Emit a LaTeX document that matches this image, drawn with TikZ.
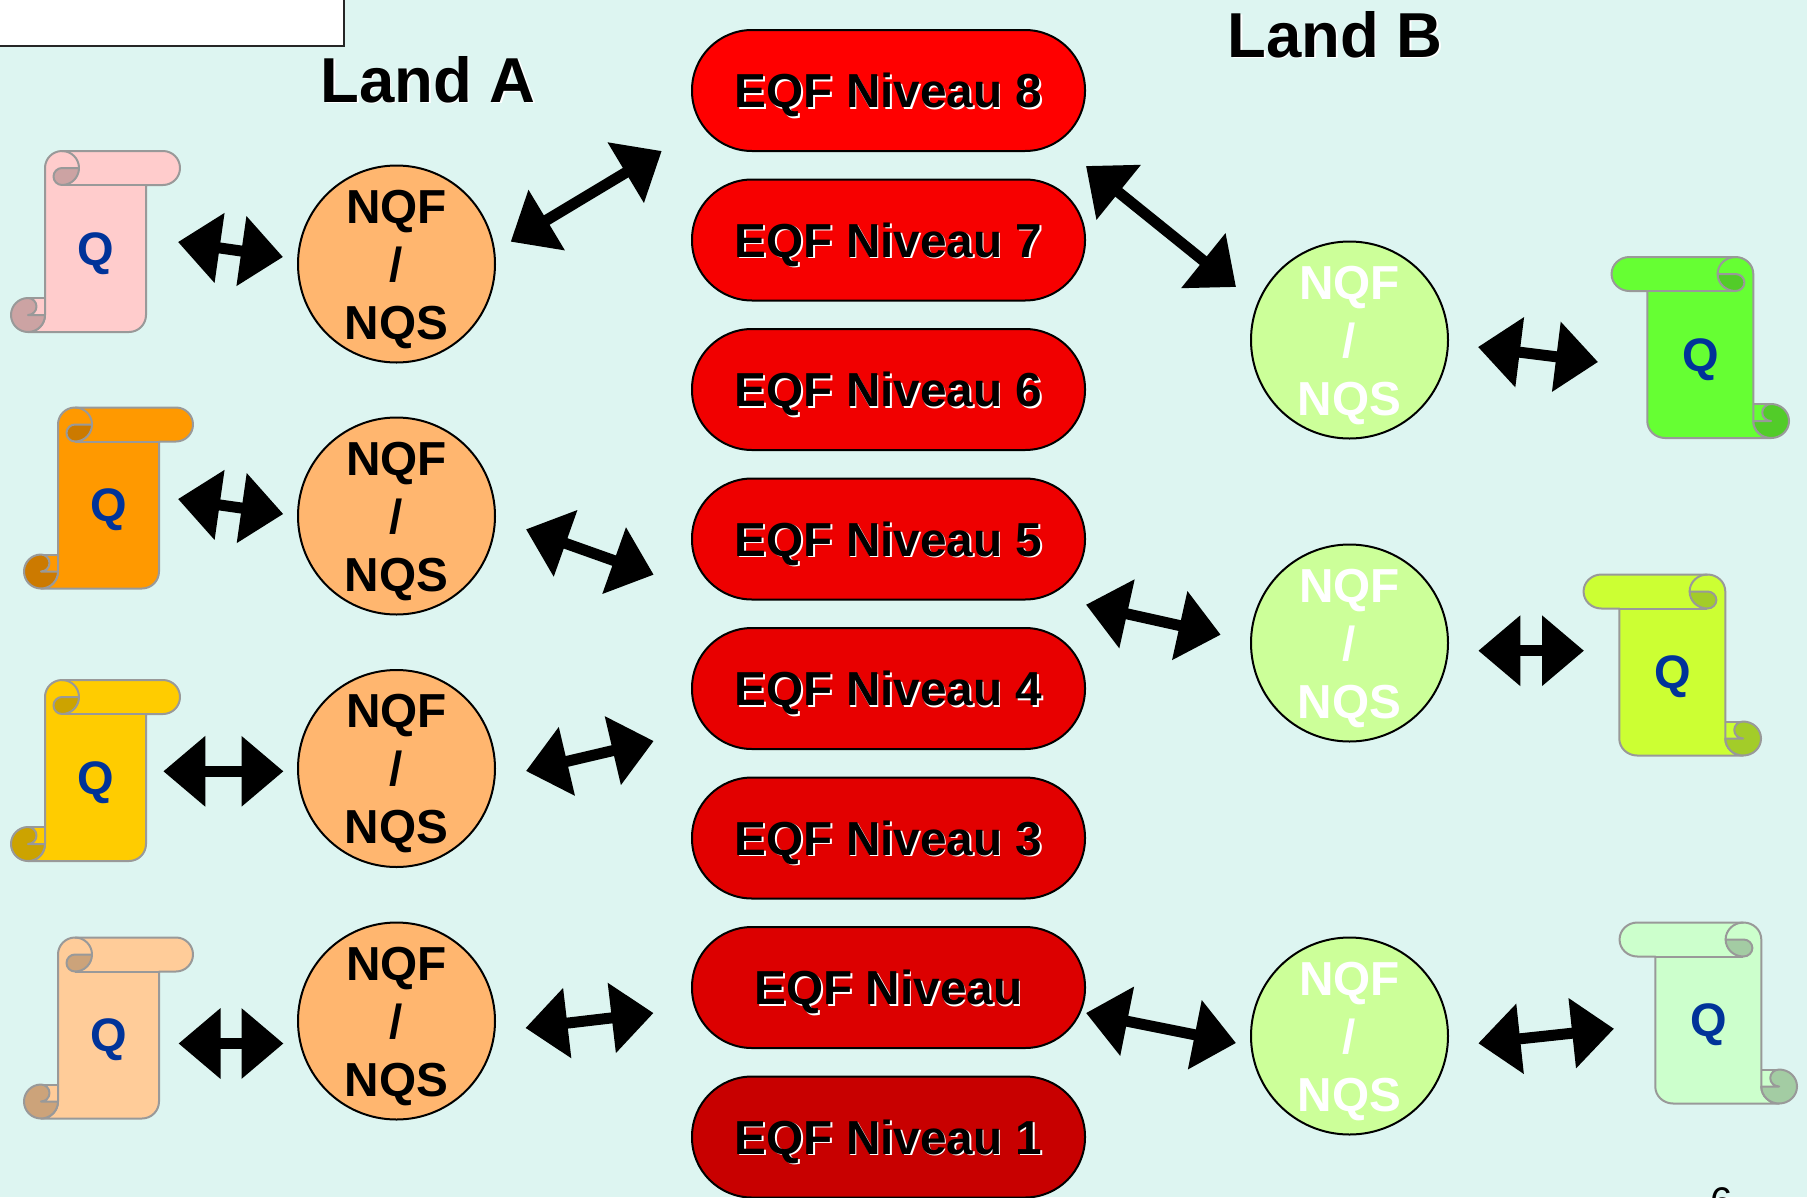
\documentclass[tikz,border=0pt]{standalone}
\usepackage{fontspec}
\setmainfont{Liberation Sans}
\usetikzlibrary{arrows.meta}
\definecolor{bgc}{HTML}{DDF5F1}
\definecolor{lfc}{HTML}{FFB66F}
\definecolor{rtc}{HTML}{CCFF99}
\definecolor{qblue}{HTML}{003399}
\definecolor{qline}{HTML}{999999}
\definecolor{spink}{HTML}{FFCCCC}
\definecolor{sorange}{HTML}{FF9900}
\definecolor{syellow}{HTML}{FFCC00}
\definecolor{speach}{HTML}{FFCC99}
\definecolor{sgreen}{HTML}{66FF33}
\definecolor{slime}{HTML}{CCFF33}
\definecolor{smint}{HTML}{CCFFCC}
\definecolor{e8c}{RGB}{255,0,0}
\definecolor{e7c}{RGB}{247,0,0}
\definecolor{e6c}{RGB}{241,0,0}
\definecolor{e5c}{RGB}{238,0,0}
\definecolor{e4c}{RGB}{232,0,0}
\definecolor{e3c}{RGB}{226,0,0}
\definecolor{e2c}{RGB}{220,0,0}
\definecolor{e1c}{RGB}{200,0,0}
\newcommand\shtext[1]{\rlap{\hspace{1.6pt}\raisebox{-1.6pt}{\textcolor{white}{#1}}}#1}
\tikzset{
  pill/.style={draw=black,line width=2pt,rounded corners=60pt,minimum width=393pt,minimum height=121pt,inner sep=0pt,
    text height=34pt,text depth=0pt,font=\fontsize{47.7}{58}\selectfont\bfseries,text=black},
  nqs/.style={circle,draw=black,line width=2pt,minimum size=197pt,inner sep=0pt,align=center,
    text height=150pt,text depth=0pt,font=\fontsize{47.7}{58}\selectfont\bfseries},
  nqsleft/.style={nqs,fill=lfc,text=black},
  nqsright/.style={nqs,fill=rtc,text=white},
  dbl/.style={line width=11pt,draw=black,{Triangle[length=42pt,width=68pt]}-{Triangle[length=42pt,width=68pt]}},
  land/.style={inner sep=0pt,text height=45pt,text depth=0pt,font=\fontsize{63.5}{70}\selectfont\bfseries},
  qletter/.style={inner sep=0pt,text=qblue,font=\fontsize{47}{50}\selectfont\bfseries},
  scrollline/.style={draw=qline,line width=2pt,line join=round}
}
% name, x of outer edge, top y, xscale, colour
\newcommand\qscroll[5]{%
  \begin{scope}[shift={(#2,#3)},yscale=-1,xscale=#4]
    \path[fill=#5,scrollline] (17,-147) -- (34,-147) -- (34,-164) -- (17,-164) -- cycle;
    \path[fill=#5,scrollline] (34,-17) arc (180:90:17) -- (152,0) arc (90:-90:17) -- (135,-34) -- (135,-164)
      arc (0:-90:17) -- (17,-181) arc (-90:0:17) -- cycle;
    \draw[scrollline] (135,-34) -- (51,-34);
    \draw[scrollline] (51,0) arc (90:0:17);
    \path[fill=#5!80!black,scrollline] (51,-17) -- (68,-17) arc (0:-90:17) arc (-90:-270:8.5) -- cycle;
    \path[fill=#5!80!black,scrollline] (17,-147) arc (90:270:17) arc (-90:0:17) -- (17,-164) arc (-90:90:8.5) -- cycle;
    \node[qletter] (#1) at (84.5,-102.5) {Q};
  \end{scope}}
\begin{document}
\begin{tikzpicture}[x=1pt,y=1pt,yscale=-1]
\fill[bgc] (0,0) rectangle (1807,1197);
\useasboundingbox (0,0) rectangle (1807,1197);
\draw[fill=white,draw=black!85,line width=2pt] (-5,-5) rectangle (344,46);

\node[land] (landa) at (428,79.5) {\shtext{Land A}};
\node[land] (landb) at (1335,34.5) {\shtext{Land B}};

\node[pill,fill=e8c] (e8) at (888.5,90.5) {\shtext{EQF Niveau 8}};
\node[pill,fill=e7c] (e7) at (888.5,240) {\shtext{EQF Niveau 7}};
\node[pill,fill=e6c] (e6) at (888.5,389.5) {\shtext{EQF Niveau 6}};
\node[pill,fill=e5c] (e5) at (888.5,539) {\shtext{EQF Niveau 5}};
\node[pill,fill=e4c] (e4) at (888.5,688.5) {\shtext{EQF Niveau 4}};
\node[pill,fill=e3c] (e3) at (888.5,838) {\shtext{EQF Niveau 3}};
\node[pill,fill=e2c] (e2) at (888.5,987.5) {\shtext{EQF Niveau}};
\node[pill,fill=e1c] (e1) at (888.5,1137) {\shtext{EQF Niveau 1}};

\node[nqsleft] (la) at (396.5,264) {NQF\\/\\NQS};
\node[nqsleft] (lb) at (396.5,516) {NQF\\/\\NQS};
\node[nqsleft] (lc) at (396.5,768.5) {NQF\\/\\NQS};
\node[nqsleft] (ld) at (396.5,1021) {NQF\\/\\NQS};
\node[nqsright] (ra) at (1349.5,340) {NQF\\/\\NQS};
\node[nqsright] (rb) at (1349.5,643) {NQF\\/\\NQS};
\node[nqsright] (rc) at (1349.5,1036) {NQF\\/\\NQS};

\qscroll{qa}{11}{151}{1}{spink}
\qscroll{qb}{24}{407.5}{1}{sorange}
\qscroll{qc}{11}{680}{1}{syellow}
\qscroll{qd}{24}{937.5}{1}{speach}
\qscroll{qe}{1789}{257}{-1.05}{sgreen}
\qscroll{qf}{1761}{574.5}{-1.05}{slime}
\qscroll{qg}{1797}{922.5}{-1.05}{smint}

\coordinate (a1l) at (178,242);   \coordinate (a1r) at (283,257);
\coordinate (a2l) at (178,499);   \coordinate (a2r) at (283.3,514);
\coordinate (a3l) at (163.3,771.3); \coordinate (a3r) at (283.5,771.3);
\coordinate (a4l) at (178.5,1043.5);\coordinate (a4r) at (283.5,1043.5);
\coordinate (b1l) at (510.7,241.7); \coordinate (b1r) at (661.7,151);
\coordinate (b2l) at (526,529.3); \coordinate (b2r) at (653.7,574.7);
\coordinate (b3l) at (526,771);   \coordinate (b3r) at (653.7,741);
\coordinate (b4l) at (525.5,1028);\coordinate (b4r) at (653.5,1013);
\coordinate (c1l) at (1086,166);  \coordinate (c1r) at (1236,287);
\coordinate (c2l) at (1086,604.7);\coordinate (c2r) at (1220.7,634.7);
\coordinate (c3l) at (1086,1013); \coordinate (c3r) at (1236,1043);
\coordinate (d1l) at (1478,347);  \coordinate (d1r) at (1598,362);
\coordinate (d2l) at (1478.3,650.7); \coordinate (d2r) at (1584,650.7);
\coordinate (d3l) at (1478.3,1043.3); \coordinate (d3r) at (1614,1028.7);
\foreach \n in {a1,a2,a3,a4,b1,b2,b3,b4,c1,c2,c3,d1,d2,d3}
  \draw[dbl] (\n l) -- (\n r);

\node[anchor=base,inner sep=0pt,font=\fontsize{40}{44}\selectfont,text=black] (pagenum) at (1722,1215) {6};
\end{tikzpicture}
\end{document}
